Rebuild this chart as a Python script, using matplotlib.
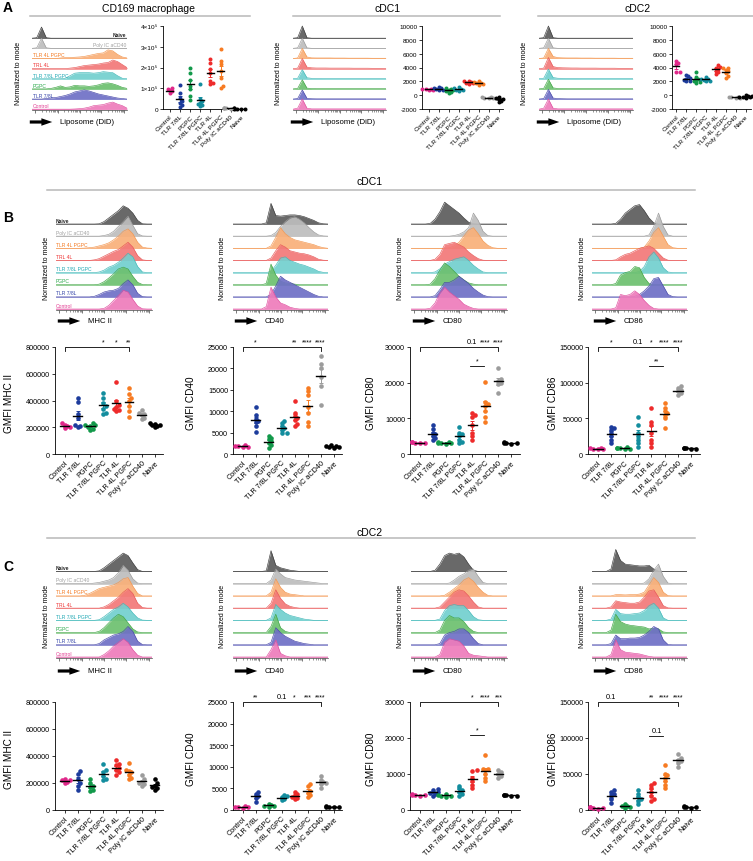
import numpy as np
import matplotlib
matplotlib.use('Agg')
import matplotlib.pyplot as plt
from matplotlib.patches import FancyArrowPatch
from matplotlib.lines import Line2D

plt.rcParams['font.family'] = ['Liberation Sans', 'DejaVu Sans']
plt.rcParams['axes.unicode_minus'] = False

# ---------------- categories / styles ----------------
GROUPS = ['Control', 'TLR 7/8L', 'PGPC', 'TLR 7/8L PGPC', 'TLR 4L', 'TLR 4L PGPC', 'Poly IC aCD40', 'Naive']
PT_COLORS = ['#e0288a', '#1d3c9c', '#12994a', '#138d9e', '#ee2b2b', '#f77b22', '#9c9c9c', '#000000']

ROW_LABELS = ['Naive', 'Poly IC aCD40', 'TLR 4L PGPC', 'TRL 4L', 'TLR 7/8L PGPC', 'PGPC', 'TLR 7/8L', 'Control']
ROW_TEXT = ['#222222', '#a0a0a0', '#f47a22', '#ee3434', '#20a8b4', '#2aa84a', '#3444a8', '#e23c92']
ROW_FILL = ['#5c5c5c', '#bdbdbd', '#f9b07a', '#f27878', '#72d0cf', '#6dc06f', '#6f70c6', '#ee7cbb']
ROW_EDGE = ['#3c3c3c', '#9a9a9a', '#f29650', '#e75858', '#42b8b8', '#40a444', '#4848a8', '#df4e9e']

# ---------------- histogram (ridge) data: rows Naive -> Control, 21 samples across x ----------------
A_CD169_HIST = [
    [0, .05, 1.1, .05, 0, 0, 0, 0, 0, 0, 0, 0, 0, 0, 0, 0, 0, 0, 0, 0, 0],
    [0, .05, 1.0, .05, 0, 0, 0, 0, 0, 0, 0, 0, 0, 0, 0, 0, 0, 0, 0, 0, 0],
    [0, 0, 0, 0, 0, 0, .05, .08, .1, .12, .15, .2, .3, .4, .5, .55, .85, .75, .4, .15, .05],
    [0, 0, 0, 0, 0, 0, 0, 0, .05, .1, .2, .3, .35, .4, .45, .55, .6, .85, .7, .4, .1],
    [0, 0, 0, 0, 0, 0, 0, .05, .3, .55, .6, .6, .6, .55, .6, .7, .65, .6, .3, .05, 0],
    [0, 0, 0, 0, .05, .15, .3, .15, .2, .35, .3, .3, .25, .3, .4, .55, .6, .5, .35, .15, .05],
    [0, 0, 0, .05, .1, .15, .25, .35, .5, .7, .8, .9, .8, .65, .5, .4, .3, .2, .1, .05, 0],
    [0, 0, 0, 0, 0, 0, 0, 0, 0, .02, .05, .1, .2, .35, .4, .45, .6, .7, .5, .35, .1],
]
A_CDC1_HIST = [
    [0, .05, 1.2, .05, 0, 0, 0, 0, 0, 0, 0, 0, 0, 0, 0, 0, 0, 0, 0, 0, 0],
    [0, .05, 1.0, .05, 0, 0, 0, 0, 0, 0, 0, 0, 0, 0, 0, 0, 0, 0, 0, 0, 0],
    [0, .05, 1.0, .15, .06, .05, .05, .05, .05, .04, .04, .04, .03, .03, .03, .03, .03, .02, .02, .02, .02],
    [0, .05, 1.0, .15, .08, .06, .06, .06, .05, .05, .05, .05, .05, .04, .04, .04, .04, .03, .03, .03, .02],
    [0, .05, .9, .1, .04, .03, .03, .02, .02, .02, .02, .02, .02, .02, .02, .02, .02, .02, .02, .02, .02],
    [0, .05, .9, .08, .03, .02, .02, .02, .02, .02, .02, .02, .02, .02, .02, .02, .02, .02, .02, .02, .02],
    [0, .05, .9, .08, .03, .02, .02, .02, .02, .02, .02, .02, .02, .02, .02, .02, .02, .02, .02, .02, .02],
    [0, .1, 1.0, .1, .03, .03, .03, .03, .03, .03, .03, .03, .03, .03, .03, .03, .03, .03, .03, .03, .03],
]
A_CDC2_HIST = [
    [0, .05, 1.2, .05, 0, 0, 0, 0, 0, 0, 0, 0, 0, 0, 0, 0, 0, 0, 0, 0, 0],
    [0, .05, 1.0, .05, 0, 0, 0, 0, 0, 0, 0, 0, 0, 0, 0, 0, 0, 0, 0, 0, 0],
    [0, .05, 1.0, .2, .08, .06, .05, .05, .05, .04, .04, .04, .03, .03, .03, .03, .03, .02, .02, .02, .02],
    [0, .05, 1.1, .2, .1, .08, .07, .06, .06, .05, .05, .05, .05, .04, .04, .04, .04, .03, .03, .03, .02],
    [0, .05, .95, .12, .05, .04, .03, .03, .03, .02, .02, .02, .02, .02, .02, .02, .02, .02, .02, .02, .02],
    [0, .05, .95, .1, .04, .03, .02, .02, .02, .02, .02, .02, .02, .02, .02, .02, .02, .02, .02, .02, .02],
    [0, .05, .95, .1, .04, .03, .02, .02, .02, .02, .02, .02, .02, .02, .02, .02, .02, .02, .02, .02, .02],
    [0, .1, 1.0, .1, .03, .03, .03, .03, .03, .03, .03, .03, .03, .03, .03, .03, .03, .03, .03, .03, .03],
]

B_MHC_HIST = [
    [0, 0, 0, 0, 0, 0, 0, 0, 0, .02, .2, .5, .8, 1.1, 1.5, 1.3, .9, .3, .02, 0, 0],
    [0, 0, 0, 0, 0, 0, 0, 0, 0, 0, .05, .15, .4, .8, 1.2, 1.65, .9, .2, .02, 0, 0],
    [0, 0, 0, 0, 0, 0, .02, .05, .1, .2, .3, .45, .7, 1.0, 1.4, 1.6, 1.2, .5, .1, .02, 0],
    [0, 0, 0, 0, 0, 0, 0, 0, .05, .15, .35, .55, .75, .9, 1.2, 1.5, 1.1, .4, .05, 0, 0],
    [0, 0, 0, 0, 0, 0, 0, 0, 0, .05, .2, .45, .6, .85, 1.2, 1.6, 1.3, .5, .05, 0, 0],
    [0, 0, 0, 0, 0, 0, 0, 0, 0, .05, .25, .55, .9, 1.3, 1.45, 1.3, .7, .2, .02, 0, 0],
    [0, 0, 0, 0, 0, 0, 0, 0, .05, .2, .4, .5, .55, .7, 1.1, 1.4, 1.0, .3, .02, 0, 0],
    [0, 0, 0, 0, 0, 0, 0, 0, 0, 0, .05, .3, .7, 1.1, 1.55, 1.4, .8, .25, .02, 0, 0],
]
B_CD40_HIST = [
    [0, 0, 0, 0, 0, 0, 0, .1, 1.7, .7, .65, .7, .75, .75, .7, .6, .45, .3, .1, .02, 0],
    [0, 0, 0, 0, 0, 0, 0, 0, .05, .3, .8, 1.2, 1.5, 1.6, 1.4, 1.1, .7, .35, .1, .02, 0],
    [0, 0, 0, 0, 0, 0, 0, 0, .2, .9, 1.7, 1.2, .9, .7, .6, .5, .4, .3, .15, .05, 0],
    [0, 0, 0, 0, 0, 0, 0, 0, .2, .8, 1.3, 1.1, .8, .7, .6, .55, .45, .3, .1, .02, 0],
    [0, 0, 0, 0, 0, 0, 0, 0, .1, .6, 1.2, 1.3, 1.0, .85, .7, .6, .45, .3, .1, .02, 0],
    [0, 0, 0, 0, 0, 0, 0, .1, 1.7, .8, .3, .15, .1, .05, 0, 0, 0, 0, 0, 0, 0],
    [0, 0, 0, 0, 0, 0, 0, 0, .2, .9, 1.7, 1.4, 1.2, 1.0, .8, .6, .4, .2, .05, 0, 0],
    [0, 0, 0, 0, 0, 0, 0, .2, 1.8, 1.0, .5, .35, .15, .05, 0, 0, 0, 0, 0, 0, 0],
]
B_CD80_HIST = [
    [0, 0, 0, 0, .05, .4, 1.0, 1.8, 1.5, 1.2, .9, .5, .15, .02, 0, 0, 0, 0, 0, 0, 0],
    [0, 0, 0, 0, 0, 0, 0, 0, 0, .05, .15, .35, .7, 1.9, 1.3, .4, .05, 0, 0, 0, 0],
    [0, 0, 0, 0, 0, 0, 0, 0, .05, .2, .5, 1.0, 1.5, 1.7, 1.2, .6, .25, .05, 0, 0, 0],
    [0, 0, 0, 0, 0, .1, .5, 1.3, 1.4, 1.5, 1.3, 1.1, .7, .4, .15, .02, 0, 0, 0, 0, 0],
    [0, 0, 0, 0, 0, .05, .3, .7, .9, 1.1, 1.2, 1.3, 1.0, .6, .3, .05, 0, 0, 0, 0, 0],
    [0, 0, 0, 0, .05, .5, 1.2, 1.8, 1.5, 1.1, .7, .4, .15, .05, 0, 0, 0, 0, 0, 0, 0],
    [0, 0, 0, 0, 0, .1, .6, 1.2, 1.2, 1.4, 1.7, 1.4, 1.1, .7, .4, .15, .02, 0, 0, 0, 0],
    [0, 0, 0, 0, .05, .5, 1.3, 1.8, 1.4, 1.1, .8, .4, .2, .05, 0, 0, 0, 0, 0, 0, 0],
]
B_CD86_HIST = [
    [0, 0, 0, 0, 0, .05, .4, .9, 1.2, 1.5, 1.6, 1.1, .5, .1, 0, 0, 0, 0, 0, 0, 0],
    [0, 0, 0, 0, 0, 0, 0, 0, 0, 0, 0, 0, .1, .8, 1.9, .8, .1, 0, 0, 0, 0],
    [0, 0, 0, 0, 0, 0, 0, 0, 0, 0, 0, .1, .6, 1.3, 1.7, 1.0, .3, .05, 0, 0, 0],
    [0, 0, 0, 0, 0, .05, .3, .5, .6, .8, 1.0, 1.1, 1.2, 1.0, .6, .2, .02, 0, 0, 0, 0],
    [0, 0, 0, 0, 0, 0, 0, 0, 0, 0, .1, .5, 1.3, 1.7, 1.2, .4, .05, 0, 0, 0, 0],
    [0, 0, 0, 0, 0, .1, .8, 1.0, 1.1, 1.5, 1.4, .6, .1, 0, 0, 0, 0, 0, 0, 0, 0],
    [0, 0, 0, 0, 0, 0, 0, 0, 0, .05, .2, .5, .9, 1.5, 1.6, .9, .2, .02, 0, 0, 0],
    [0, 0, 0, 0, 0, .1, 1.2, 1.1, 1.2, 1.5, 1.2, .7, .3, .05, 0, 0, 0, 0, 0, 0, 0],
]

C_MHC_HIST = [
    [0, 0, 0, 0, 0, 0, 0, 0, 0, .05, .3, .6, .9, 1.2, 1.5, 1.3, .7, .15, 0, 0, 0],
    [0, 0, 0, 0, 0, 0, 0, 0, .05, .1, .2, .3, .5, .9, 1.5, 1.1, .4, .05, 0, 0, 0],
    [0, 0, 0, 0, 0, 0, .05, .2, .4, .6, .7, .8, .9, 1.1, 1.4, 1.5, .8, .2, 0, 0, 0],
    [0, 0, 0, 0, 0, 0, 0, 0, 0, 0, .1, .3, .6, .9, 1.3, 1.6, 1.2, .4, .05, 0, 0],
    [0, 0, 0, 0, 0, 0, 0, 0, 0, .05, .3, .6, .9, 1.1, 1.4, 1.1, .6, .2, .02, 0, 0],
    [0, 0, 0, 0, 0, 0, 0, 0, 0, .1, .4, .8, 1.2, 1.5, 1.3, .8, .3, .05, 0, 0, 0],
    [0, 0, 0, 0, 0, 0, 0, 0, 0, .1, .4, .6, .8, .9, 1.1, 1.5, 1.1, .3, .02, 0, 0],
    [0, 0, 0, 0, 0, 0, 0, 0, 0, 0, .2, .5, .9, 1.2, 1.5, 1.2, .6, .15, 0, 0, 0],
]
C_CD40_HIST = [
    [0, 0, 0, 0, 0, 0, 0, .05, 1.7, .5, .3, .2, .1, .05, 0, 0, 0, 0, 0, 0, 0],
    [0, 0, 0, 0, 0, 0, 0, 0, .3, 1.2, .8, .5, .4, .3, .25, .2, .15, .1, .05, 0, 0],
    [0, 0, 0, 0, 0, 0, 0, 0, .3, 1.4, .7, .3, .15, .1, .05, 0, 0, 0, 0, 0, 0],
    [0, 0, 0, 0, 0, 0, 0, 0, .4, 1.5, .8, .35, .15, .05, 0, 0, 0, 0, 0, 0, 0],
    [0, 0, 0, 0, 0, 0, 0, 0, .2, 1.3, .9, .6, .4, .3, .2, .1, .05, 0, 0, 0, 0],
    [0, 0, 0, 0, 0, 0, 0, 0, .5, 1.5, .4, .1, 0, 0, 0, 0, 0, 0, 0, 0, 0],
    [0, 0, 0, 0, 0, 0, 0, 0, .2, 1.4, 1.0, .7, .5, .3, .2, .1, .05, 0, 0, 0, 0],
    [0, 0, 0, 0, 0, 0, 0, 0, .6, 1.4, .3, .1, 0, 0, 0, 0, 0, 0, 0, 0, 0],
]
C_CD80_HIST = [
    [0, 0, 0, 0, 0, .1, .6, 1.3, 1.5, 1.4, 1.5, 1.2, .6, .1, 0, 0, 0, 0, 0, 0, 0],
    [0, 0, 0, 0, 0, 0, 0, 0, .05, .3, .6, .8, 1.1, 1.2, .6, .1, 0, 0, 0, 0, 0],
    [0, 0, 0, 0, 0, 0, 0, .05, .3, .6, .9, 1.3, 1.5, 1.2, .7, .3, .05, 0, 0, 0, 0],
    [0, 0, 0, 0, 0, 0, .1, .5, .9, 1.3, 1.5, 1.4, 1.0, .5, .1, 0, 0, 0, 0, 0, 0],
    [0, 0, 0, 0, 0, 0, .1, .8, 1.2, 1.3, 1.2, 1.2, .8, .3, .05, 0, 0, 0, 0, 0, 0],
    [0, 0, 0, 0, 0, 0, .2, 1.0, 1.4, 1.2, 1.2, .9, .4, .1, 0, 0, 0, 0, 0, 0, 0],
    [0, 0, 0, 0, 0, 0, .1, .8, 1.0, 1.1, 1.3, 1.3, 1.0, .5, .1, 0, 0, 0, 0, 0, 0],
    [0, 0, 0, 0, 0, 0, .2, 1.2, 1.5, 1.4, 1.3, .9, .3, .15, .1, .05, 0, 0, 0, 0, 0],
]
C_CD86_HIST = [
    [0, 0, 0, 0, .2, 1.8, .9, .6, .55, .5, .45, .45, .5, .2, .02, 0, 0, 0, 0, 0, 0],
    [0, 0, 0, 0, 0, 0, 0, 0, 0, 0, 0, .05, .4, 1.1, 1.6, .6, .05, 0, 0, 0, 0],
    [0, 0, 0, 0, 0, .1, .1, .08, .1, .1, .15, .3, .9, 1.5, 1.1, .3, .02, 0, 0, 0, 0],
    [0, 0, 0, 0, .1, .6, .5, .45, .4, .4, .5, .9, 1.4, 1.5, .9, .2, .02, 0, 0, 0, 0],
    [0, 0, 0, 0, .1, .9, .55, .5, .5, .55, .6, .8, 1.2, 1.4, 1.0, .2, 0, 0, 0, 0, 0],
    [0, 0, 0, 0, .2, 1.5, .9, .7, .6, .55, .5, .45, .3, .35, .3, .05, 0, 0, 0, 0, 0],
    [0, 0, 0, 0, .1, .8, .5, .5, .55, .55, .6, .8, 1.1, 1.5, 1.3, .4, .02, 0, 0, 0, 0],
    [0, 0, 0, 0, .2, 1.4, .6, .4, .35, .3, .25, .15, .05, 0, 0, 0, 0, 0, 0, 0, 0],
]

# ---------------- scatter data (order = GROUPS) ----------------
A_CD169_PTS = [
    [1.0e5, 0.95e5, 0.9e5, 0.85e5, 0.75e5],
    [1.15e5, 0.75e5, 0.55e5, 0.4e5, 0.3e5, 0.2e5, 0.1e5],
    [2.0e5, 1.75e5, 1.4e5, 1.1e5, 0.95e5, 0.65e5, 0.45e5],
    [1.2e5, 0.5e5, 0.4e5, 0.3e5, 0.25e5, 0.2e5, 0.15e5],
    [2.4e5, 2.2e5, 1.95e5, 1.75e5, 1.35e5, 1.25e5, 1.2e5],
    [2.9e5, 2.3e5, 2.15e5, 1.85e5, 1.5e5, 1.1e5, 1.0e5],
    [3000, 2000, 4000, 1000, 2500, 3500],
    [2000, 1000, 3000, 0, 1500, 2500],
]
A_CDC1_PTS = [
    [950, 850, 800, 700, 900],
    [1250, 1100, 1000, 900, 800, 700],
    [1100, 950, 800, 700, 600, 450, 300],
    [1200, 1000, 900, 800, 700, 600],
    [2100, 2000, 1900, 1800, 1700, 1650],
    [2000, 1900, 1800, 1700, 1600, 1500],
    [-300, -400, -350, -450, -250],
    [-200, -400, -600, -800, -1000, -500],
]
A_CDC2_PTS = [
    [4900, 4700, 4500, 3400, 3300],
    [2900, 2700, 2500, 2400, 2200, 2100, 2000],
    [3400, 2600, 2400, 2200, 2000, 1900, 1800],
    [2600, 2400, 2300, 2200, 2100, 2000],
    [4300, 4100, 4000, 3800, 3500, 3300, 3100],
    [4000, 3900, 3700, 3500, 3200, 2700, 2500],
    [-200, -250, -300, -350, -400],
    [0, -100, -150, -200, -250, -300, -400],
]

B_MHC_PTS = [
    [230000, 220000, 210000, 200000, 195000],
    [420000, 390000, 300000, 270000, 220000, 210000, 200000],
    [230000, 220000, 215000, 210000, 200000, 190000, 180000],
    [455000, 420000, 380000, 360000, 340000, 310000, 300000],
    [540000, 400000, 370000, 350000, 340000, 330000, 320000],
    [495000, 450000, 420000, 400000, 360000, 320000, 280000],
    [330000, 310000, 300000, 290000, 270000, 260000],
    [230000, 225000, 220000, 215000, 210000, 200000],
]
B_CD40_PTS = [
    [2000, 1900, 1800, 1700, 1600],
    [11000, 9000, 8200, 7800, 7500, 6500, 5200],
    [4200, 3800, 3400, 3000, 2500, 2000, 1500],
    [7800, 7200, 6500, 6000, 5500, 5000, 4800],
    [12500, 9500, 8800, 8500, 8000, 7000, 6500],
    [15500, 14800, 13800, 11000, 9500, 7500, 6500],
    [22800, 21000, 20200, 18000, 16000, 11500],
    [2000, 1900, 1800, 1700, 1600, 1500],
]
B_CD80_PTS = [
    [3400, 3300, 3200, 3100, 3000],
    [8000, 7000, 6000, 5500, 5000, 4500, 4000],
    [3500, 3300, 3200, 3100, 3000, 2800],
    [7500, 6000, 5500, 5000, 4000, 3500, 3000],
    [11500, 11000, 10500, 8000, 6000, 5000, 4000],
    [20200, 14500, 14000, 13500, 12000, 10500, 9000],
    [24200, 21000, 20500, 20000, 19500, 17200],
    [3300, 3200, 3100, 3000, 2900],
]
B_CD86_PTS = [
    [9000, 8000, 7500, 7000, 6500],
    [38000, 36000, 34000, 30000, 25000, 20000, 15000],
    [10000, 9000, 8500, 8000, 7500, 7000],
    [52000, 40000, 30000, 25000, 20000, 15000, 10000],
    [65000, 45000, 40000, 30000, 20000, 15000, 10000],
    [72000, 65000, 60000, 58000, 55000, 50000, 36000],
    [95000, 93000, 90000, 88000, 85000, 83000],
    [9000, 8500, 8000, 7500, 7000],
]

C_MHC_PTS = [
    [230000, 225000, 220000, 210000, 200000],
    [290000, 270000, 230000, 200000, 180000, 150000],
    [230000, 200000, 180000, 170000, 150000, 140000],
    [340000, 300000, 280000, 250000, 230000, 220000],
    [370000, 340000, 330000, 310000, 300000, 280000, 260000],
    [350000, 300000, 290000, 280000, 260000, 240000, 230000],
    [260000, 230000, 210000, 200000, 190000, 180000],
    [230000, 200000, 180000, 170000, 160000, 150000],
]
C_CD40_PTS = [
    [900, 800, 700, 600, 500],
    [4200, 3800, 3200, 2800, 1800],
    [1500, 1200, 1000, 900, 800],
    [3500, 3200, 3000, 2500, 2200],
    [4200, 3800, 3500, 3000, 2800, 2500],
    [6000, 5500, 4500, 4000, 3500, 3000],
    [7800, 7000, 6500, 6200, 6000, 5000],
    [900, 800, 800, 700, 600],
]
C_CD80_PTS = [
    [4400, 4300, 4200, 4100, 4000],
    [5800, 5500, 5000, 4800, 4500, 4000],
    [4500, 4200, 4000, 3900, 3700],
    [6800, 6000, 5500, 5000, 4500, 4000],
    [11000, 10800, 9000, 8000, 7000, 6000],
    [15300, 11500, 11500, 11000, 10000, 9000, 8000],
    [11000, 10500, 10000, 9500, 9000],
    [4300, 4200, 4100, 4000, 3900],
]
C_CD86_PTS = [
    [4000, 3500, 3000, 2500, 2000],
    [28000, 25000, 22000, 20000, 15000, 10000],
    [8000, 6000, 5000, 4000, 3000],
    [28000, 22000, 18000, 15000, 12000, 8000],
    [38000, 35000, 30000, 25000, 20000, 15000, 12000],
    [62000, 50000, 48000, 45000, 40000, 35000, 30000],
    [78000, 72000, 70000, 68000, 65000, 60000],
    [5000, 4500, 4000, 3500, 3000],
]

# significance annotations: (category, text); bracket end; inner bracket (a, b, y, text)
B_MHC_SIG = ([(3, '*'), (4, '*'), (5, '**')], 5, None)
B_CD40_SIG = ([(1, '*'), (4, '**'), (5, '****'), (6, '****')], 6, None)
B_CD80_SIG = ([(4, '0.1'), (5, '****'), (6, '****')], 6, (4, 5, 24700, '*'))
B_CD86_SIG = ([(1, '*'), (3, '0.1'), (4, '*'), (5, '****'), (6, '****')], 6, (4, 5, 123000, '**'))
C_MHC_SIG = None
C_CD40_SIG = ([(1, '**'), (3, '0.1'), (4, '*'), (5, '***'), (6, '****')], 6, None)
C_CD80_SIG = ([(4, '*'), (5, '****'), (6, '***')], 6, (4, 5, 20800, '*'))
C_CD86_SIG = ([(1, '0.1'), (4, '**'), (5, '****'), (6, '****')], 6, (4, 5, 102800, '0.1'))

# ---------------- figure helpers ----------------
W, H = 753, 862
fig = plt.figure(figsize=(W / 100, H / 100), dpi=100)


def rect(x0, y0, x1, y1):
    return [x0 / W, 1 - y1 / H, (x1 - x0) / W, (y1 - y0) / H]


def fx(x):
    return x / W


def fy(y):
    return 1 - y / H


def ftext(x, y, s, **kw):
    fig.text(fx(x), fy(y), s, **kw)


def hline(x0, x1, y, color='#b8b8b8', lw=1.1):
    fig.add_artist(Line2D([fx(x0), fx(x1)], [fy(y), fy(y)], color=color, lw=lw,
                          transform=fig.transFigure))


def arrow(x0, x1, y):
    fig.add_artist(FancyArrowPatch((fx(x0), fy(y)), (fx(x1), fy(y)), transform=fig.transFigure,
                                   arrowstyle='simple,head_length=1.3,head_width=0.9,tail_width=0.38',
                                   mutation_scale=6, color='black', lw=0))


XGRID = np.linspace(0, 1, 21)
MAJ = [0.03, 0.27, 0.5, 0.73, 0.97]


def ridge(r, curves, ytop, labels=None, labelmode='B'):
    ax = fig.add_axes(rect(*r))
    n = len(curves)
    for i, h in enumerate(curves):
        base = n - 1 - i
        h = np.asarray(h, float)
        ax.plot([0, 1], [base, base], color=ROW_FILL[i], lw=0.6, zorder=2 * i + 1, alpha=0.8)
        ax.fill_between(XGRID, base, base + h, color=ROW_FILL[i], alpha=0.92, lw=0, zorder=2 * i + 1)
        ax.plot(XGRID, base + h, color=ROW_EDGE[i], lw=0.45, zorder=2 * i + 2)
        if labels:
            if labelmode == 'A' and i < 2:
                ax.text(0.99, base + 0.12, ROW_LABELS[i], color=ROW_TEXT[i], fontsize=3.6,
                        ha='right', va='bottom', zorder=30, fontweight='bold' if i == 0 else 'normal')
            else:
                ax.text(0.0 if labelmode == 'B' else 0.01, base + 0.12, ROW_LABELS[i], color=ROW_TEXT[i],
                        fontsize=3.6, ha='left', va='bottom', zorder=30,
                        fontweight='bold' if i == 0 else 'normal')
    ax.set_xlim(0, 1)
    ax.set_ylim(-0.08, ytop)
    for s in ['left', 'right', 'top']:
        ax.spines[s].set_visible(False)
    ax.spines['bottom'].set_linewidth(0.5)
    ax.spines['bottom'].set_color('#444444')
    ax.set_yticks([])
    ax.set_xticks(MAJ)
    ax.set_xticklabels([])
    minor = []
    for k in range(len(MAJ) - 1):
        step = MAJ[k + 1] - MAJ[k]
        for m in range(2, 10):
            minor.append(MAJ[k] + step * np.log10(m))
    ax.set_xticks(minor, minor=True)
    ax.tick_params(axis='x', which='major', length=2.2, width=0.5, color='#444444')
    ax.tick_params(axis='x', which='minor', length=1.2, width=0.4, color='#444444')
    return ax


def swarm(ypx, d):
    # deterministic beeswarm allowing partial overlap, like the reference dot plots
    order = np.argsort(ypx)
    placed = []
    offs = np.zeros(len(ypx))
    thr = d * 0.6
    for i in order:
        y = ypx[i]
        xo = 0.0
        for k in [0, 1, -1, 2, -2, 3, -3]:
            xo = k * d * 0.55
            if all((xo - px) ** 2 + (y - py) ** 2 >= thr ** 2 for px, py in placed):
                break
        placed.append((xo, y))
        offs[i] = xo
    return offs


def scatter_panel(r, data, ylim, yticks, yticklabels, xlim=(-0.75, 7.65), ms=4.6, fs=5.2, sig=None):
    ax = fig.add_axes(rect(*r))
    ax.set_xlim(*xlim)
    ax.set_ylim(*ylim)
    hpx = (r[3] - r[1])
    wpx = (r[2] - r[0])
    ppu_y = hpx / (ylim[1] - ylim[0])
    ppu_x = wpx / (xlim[1] - xlim[0])
    for i, vals in enumerate(data):
        v = np.asarray(vals, float)
        off = swarm(v * ppu_y, ms) / ppu_x
        ax.scatter(i + off, v, s=(ms * 0.72) ** 2, color=PT_COLORS[i], lw=0, zorder=3, clip_on=False)
        m = v.mean()
        se = v.std(ddof=1) / np.sqrt(len(v))
        ax.errorbar(i, m, yerr=se, color=PT_COLORS[i], capsize=1.3, lw=0.7, capthick=0.7, zorder=4)
        ax.plot([i - 0.34, i + 0.34], [m, m], color='black', lw=1.0, zorder=5)
    for s in ['right', 'top']:
        ax.spines[s].set_visible(False)
    for s in ['left', 'bottom']:
        ax.spines[s].set_linewidth(0.6)
    ax.set_yticks(yticks)
    ax.set_yticklabels(yticklabels)
    ax.set_xticks(range(len(GROUPS)))
    ax.set_xticklabels(GROUPS, rotation=45, ha='right', rotation_mode='anchor')
    ax.tick_params(labelsize=fs, length=2.3, width=0.55, pad=1.2)
    if sig:
        labels, end, inner = sig
        top = ylim[1]
        rng = ylim[1] - ylim[0]
        ax.plot([0, 0, end, end], [top - 0.035 * rng, top, top, top - 0.035 * rng], color='black', lw=0.6,
                clip_on=False)
        for c, s in labels:
            ax.text(c, top + 0.015 * rng, s, ha='center', va='bottom', fontsize=5.3 if s == '0.1' else 5.0,
                    clip_on=False)
        if inner:
            a, b, y, s = inner
            ax.plot([a - 0.15, b - 0.1], [y, y], color='black', lw=0.6)
            ax.text((a + b) / 2 - 0.12, y + 0.015 * rng, s, ha='center', va='bottom',
                    fontsize=5.3 if s == '0.1' else 5.0)
    return ax


# ---------------- Panel A ----------------
ftext(8, 8, 'A', fontsize=10, fontweight='bold', ha='center', va='center')
ftext(149, 9, 'CD169 macrophage', fontsize=7.5, ha='center', va='center')
ftext(388, 9, 'cDC1', fontsize=7.5, ha='center', va='center')
ftext(638, 9, 'cDC2', fontsize=7.5, ha='center', va='center')
hline(30, 250, 17)
hline(293, 500, 17)
hline(538, 753, 17)

A_HISTS = [(32, 127, A_CD169_HIST), (293, 386, A_CDC1_HIST), (539, 633, A_CDC2_HIST)]
for j, (x0, x1, cur) in enumerate(A_HISTS):
    ridge((x0, 25, x1, 111), cur, 8.4, labels=(j == 0), labelmode='A')
    ftext(x0 - 14, 73, 'Normalized to mode', rotation=90, fontsize=5.0, ha='center', va='center')
    arrow(x0 - 5, x0 + 23, 123)
    ftext(x0 + 28, 123, 'Liposome (DiD)', fontsize=5.6, ha='left', va='center')

scatter_panel((163, 27, 246, 110), A_CD169_PTS, (0, 4e5), [0, 1e5, 2e5, 3e5, 4e5],
              ['0', '1×10⁵', '2×10⁵', '3×10⁵', '4×10⁵'], xlim=(-0.66, 7.5), ms=4.0, fs=4.6)
scatter_panel((422, 27, 503, 110), A_CDC1_PTS, (-2000, 10000), [-2000, 0, 2000, 4000, 6000, 8000, 10000],
              ['-2000', '0', '2000', '4000', '6000', '8000', '10000'], xlim=(-0.66, 7.45), ms=4.0, fs=4.6)
scatter_panel((672, 27, 751, 110), A_CDC2_PTS, (-2000, 10000), [-2000, 0, 2000, 4000, 6000, 8000, 10000],
              ['-2000', '0', '2000', '4000', '6000', '8000', '10000'], xlim=(-0.4, 7.55), ms=4.0, fs=4.6)

# ---------------- Panels B & C ----------------
HIST_X = [(56, 152), (233, 328), (411, 507), (592, 687)]
SCAT_X = [(55, 163), (233, 342), (410, 520), (588, 700)]
MARKERS = ['MHC II', 'CD40', 'CD80', 'CD86']
YLAB_X = [9, 191, 371, 553]
YLIMS = [(0, 800000), (0, 25000), (0, 30000), (0, 150000)]
YTICKS = [[0, 200000, 400000, 600000, 800000], [0, 5000, 10000, 15000, 20000, 25000],
          [0, 10000, 20000, 30000], [0, 50000, 100000, 150000]]

ROWS = [
    dict(letter='B', title='cDC1', ty=182, ly=191, lety=218, hy0=200, hy1=311, ytop=9.06, ylab_y=268,
         ay=322, sy0=348, sy1=455,
         hists=[B_MHC_HIST, B_CD40_HIST, B_CD80_HIST, B_CD86_HIST],
         pts=[B_MHC_PTS, B_CD40_PTS, B_CD80_PTS, B_CD86_PTS],
         sig=[B_MHC_SIG, B_CD40_SIG, B_CD80_SIG, B_CD86_SIG]),
    dict(letter='C', title='cDC2', ty=533, ly=539, lety=567, hy0=548, hy1=659, ytop=9.0, ylab_y=616,
         ay=672, sy0=703, sy1=811,
         hists=[C_MHC_HIST, C_CD40_HIST, C_CD80_HIST, C_CD86_HIST],
         pts=[C_MHC_PTS, C_CD40_PTS, C_CD80_PTS, C_CD86_PTS],
         sig=[C_MHC_SIG, C_CD40_SIG, C_CD80_SIG, C_CD86_SIG]),
]

for R in ROWS:
    ftext(8, R['lety'], R['letter'], fontsize=10, fontweight='bold', ha='center', va='center')
    ftext(370, R['ty'], R['title'], fontsize=7.5, ha='center', va='center')
    hline(47, 695, R['ly'])
    for k in range(4):
        hx0, hx1 = HIST_X[k]
        ridge((hx0, R['hy0'], hx1, R['hy1']), R['hists'][k], R['ytop'], labels=(k == 0), labelmode='B')
        ftext(hx0 - 10, R['ylab_y'], 'Normalized to mode', rotation=90, fontsize=5.0, ha='center', va='center')
        arrow(hx0 - 1, hx0 + 27, R['ay'])
        ftext(hx0 + 32, R['ay'], MARKERS[k], fontsize=5.6, ha='left', va='center')
        sx0, sx1 = SCAT_X[k]
        scatter_panel((sx0, R['sy0'], sx1, R['sy1']), R['pts'][k], YLIMS[k], YTICKS[k],
                      [str(t) for t in YTICKS[k]], sig=R['sig'][k])
        ftext(YLAB_X[k], (R['sy0'] + R['sy1']) / 2 + 2, 'GMFI ' + MARKERS[k], rotation=90, fontsize=7.2,
              ha='center', va='center')

fig.savefig('out.png', dpi=100)
